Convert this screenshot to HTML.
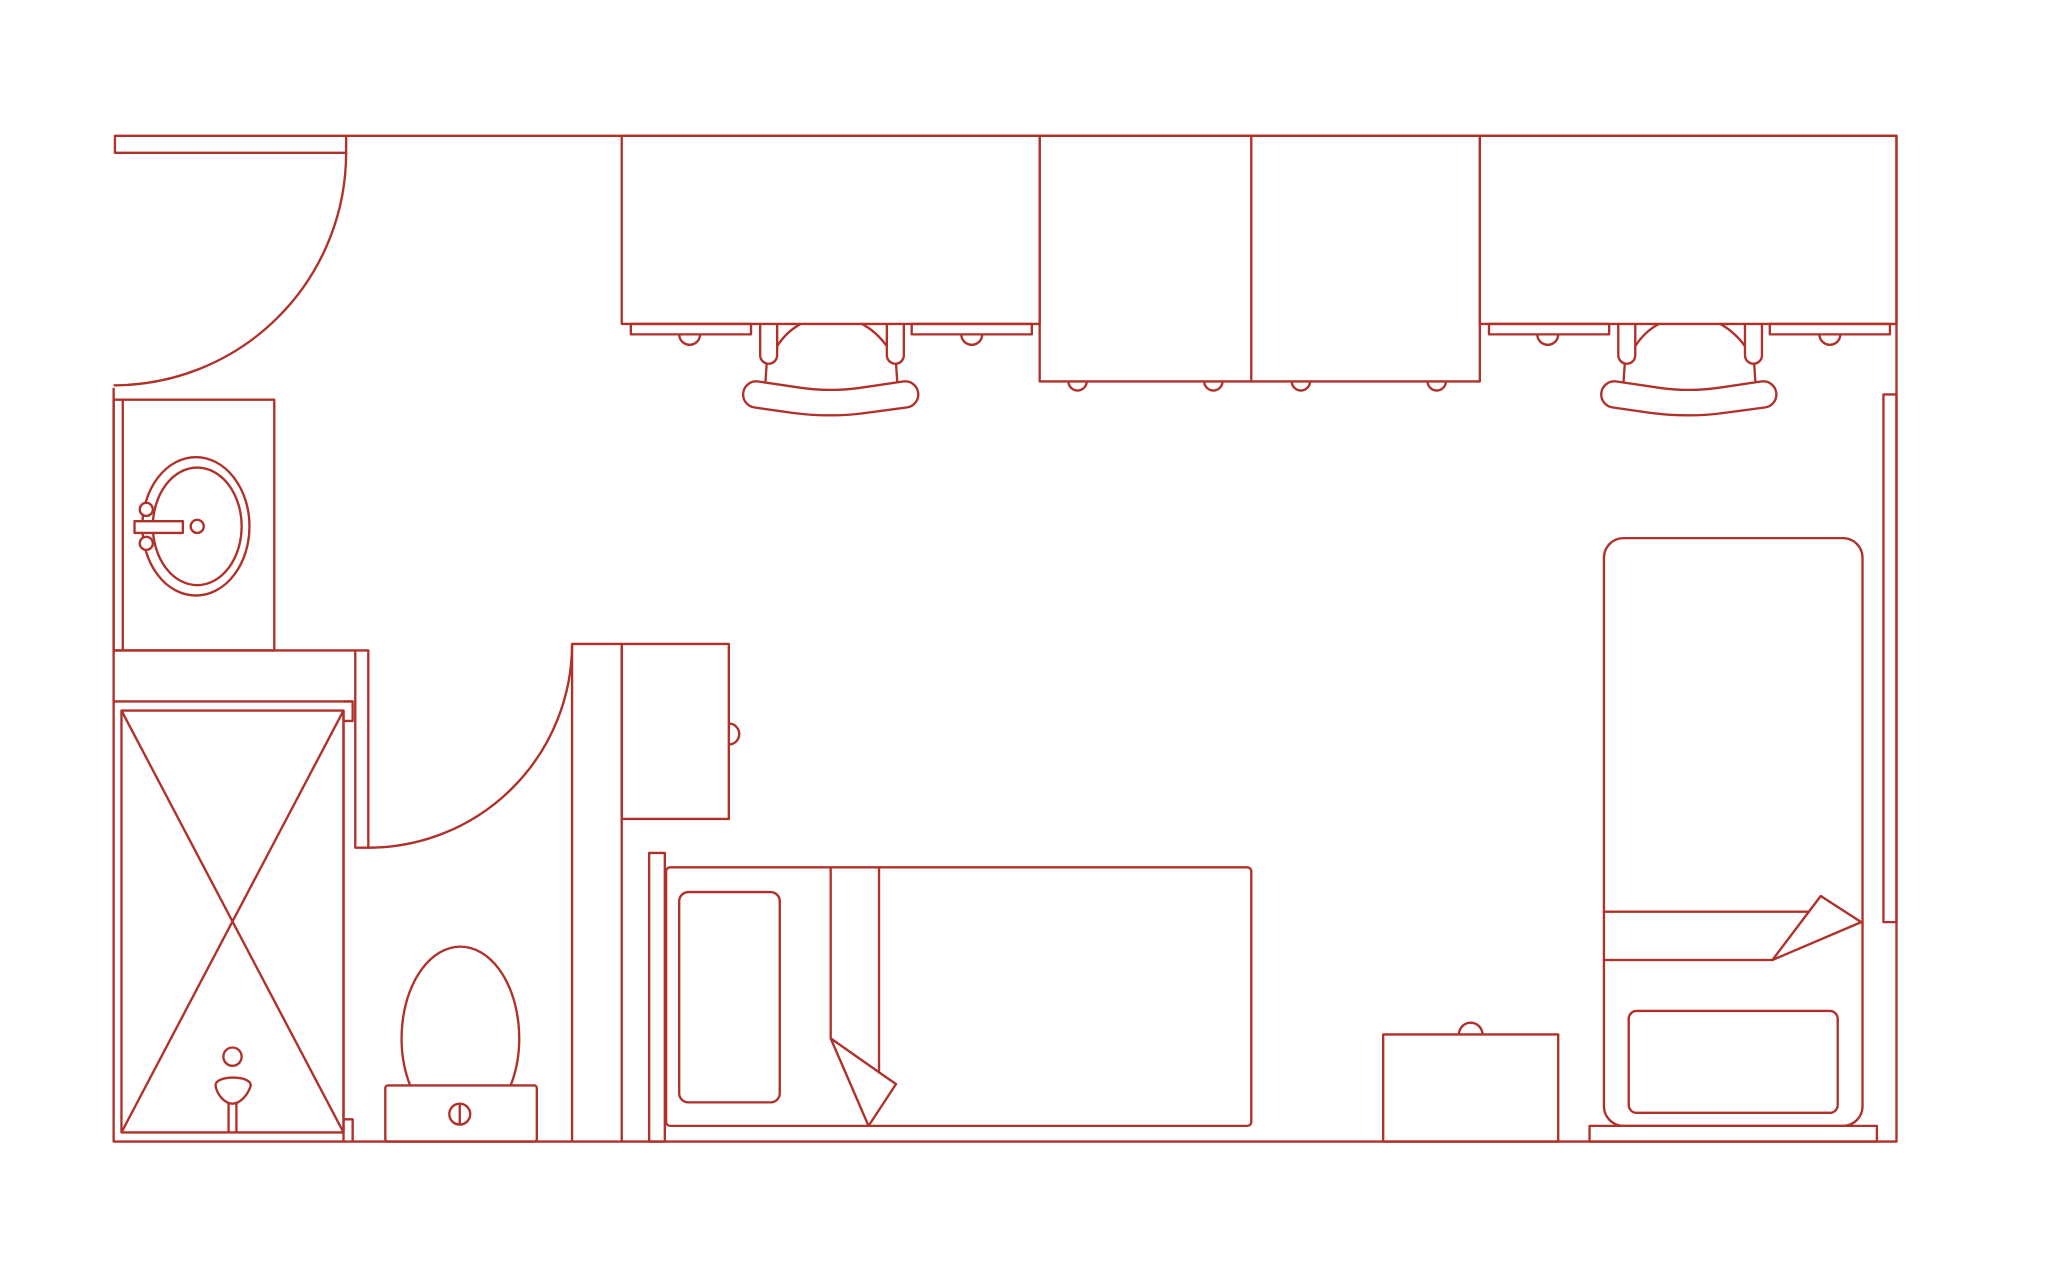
<!DOCTYPE html>
<html><head><meta charset="utf-8"><style>html,body{margin:0;padding:0;background:#fff}svg{display:block}</style></head>
<body>
<svg width="2048" height="1280" viewBox="0 0 1568 980" xmlns="http://www.w3.org/2000/svg" fill="none" stroke="#b0302a" stroke-width="1.8" stroke-linejoin="round">
<!-- walls -->
<path d="M265 104 H1452 V874 H87 V297"/>
<rect x="88" y="104" width="177" height="13"/>
<path d="M265 117 A178 178 0 0 1 87 295"/>
<!-- vanity -->
<rect x="87" y="306" width="123" height="192"/>
<line x1="94" y1="306" x2="94" y2="498"/>
<ellipse cx="150" cy="403" rx="41" ry="53"/>
<ellipse cx="151" cy="403" rx="34" ry="45"/>
<rect x="103" y="399" width="37" height="9" fill="#fff"/>
<circle cx="112" cy="390" r="5" fill="#fff"/>
<circle cx="112" cy="416" r="5" fill="#fff"/>
<circle cx="151" cy="403" r="5"/>
<line x1="87" y1="498" x2="272" y2="498"/>
<!-- shower -->
<line x1="87" y1="537" x2="270" y2="537"/>
<path d="M263 537 H270 V552 H263"/>
<path d="M263 857 H270 V874"/>
<rect x="93" y="544" width="170" height="323"/>
<line x1="93" y1="544" x2="263" y2="867"/>
<line x1="263" y1="544" x2="93" y2="867"/>
<circle cx="178" cy="809" r="7"/>
<path d="M165 831 C165 823 192 823 192 831 C190 838 184 845 178 845 C172 845 166 838 165 831 Z" fill="#fff"/>
<line x1="175" y1="845" x2="175" y2="867"/><line x1="181" y1="845" x2="181" y2="867"/>
<line x1="263" y1="544" x2="263" y2="874"/>
<!-- door -->
<rect x="272" y="498" width="10" height="151"/>
<path d="M282 649 A156 156 0 0 0 438 493"/>
<!-- partition -->
<path d="M438 874 V493 H476 V874"/>
<rect x="476" y="493" width="82" height="134"/>
<path d="M558 554 A8 8 0 0 1 558 570"/>
<!-- toilet -->
<path d="M314 831 A45 70 0 1 1 391 831"/>
<rect x="295" y="831" width="116" height="43" rx="2"/>
<circle cx="352" cy="853" r="8"/>
<line x1="352" y1="845" x2="352" y2="861"/>
<!-- left bed -->
<rect x="497" y="653" width="12" height="221"/>
<rect x="510" y="664" width="448" height="198" rx="3"/>
<rect x="520" y="683" width="77" height="161" rx="7"/>
<line x1="636" y1="664" x2="636" y2="795"/>
<line x1="673" y1="664" x2="673" y2="822"/>
<path d="M636 795 L686 830 L665 862 Z"/>
<!-- dresser -->
<rect x="1059" y="792" width="134" height="82"/>
<path d="M1117 792 A9 9 0 0 1 1135 792"/>
<!-- right bed -->
<rect x="1228" y="412" width="198" height="450" rx="15"/>
<line x1="1228" y1="698" x2="1385" y2="698"/>
<line x1="1228" y1="735" x2="1357" y2="735"/>
<path d="M1357 735 L1394 686 L1425 706 Z" fill="#fff"/>
<rect x="1247" y="774" width="160" height="78" rx="6"/>
<rect x="1217" y="862" width="220" height="12"/>
<!-- window -->
<rect x="1442" y="302" width="10" height="404"/>
<!-- desks -->
<rect x="476" y="104" width="320" height="144"/>
<rect x="1133" y="104" width="319" height="144"/>
<rect x="796" y="104" width="337" height="188"/>
<line x1="958" y1="104" x2="958" y2="292"/>
<path d="M818 292 A7 7 0 0 0 832 292 M922 292 A7 7 0 0 0 936 292 M989 292 A7 7 0 0 0 1003 292 M1093 292 A7 7 0 0 0 1107 292"/>
<g id="ch">
<rect x="483" y="248" width="92" height="8"/>
<rect x="698" y="248" width="92" height="8"/>
<path d="M520 256 A8 8 0 0 0 536 256 M736 256 A8 8 0 0 0 752 256"/>
<path d="M582 248 V272 A6.5 6.5 0 0 0 595 272 V248"/>
<path d="M679 248 V272 A6.5 6.5 0 0 0 692 272 V248"/>
<path d="M595 265 Q602 254 613 248 M660 248 Q671 254 679 265"/>
<path d="M587 278 L586 293 M686 278 L687 293"/>
<path d="M580 292 L614 297 Q636 300 658 297 L692 292 A10 10 0 0 1 694 312 L664 316 Q636 320 606 316 L578 312 A10 10 0 0 1 580 292 Z"/>
</g>
<use href="#ch" transform="translate(657 0)"/>
</svg>
</body></html>
